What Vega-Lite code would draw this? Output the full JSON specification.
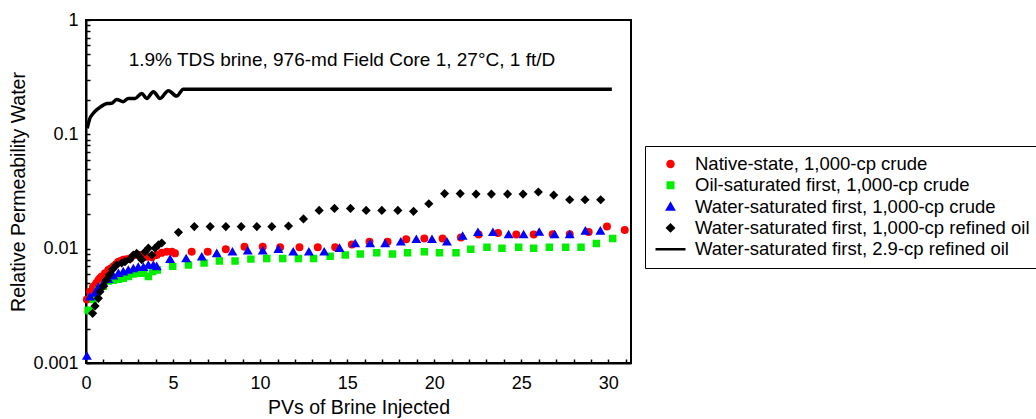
{
  "$schema": "https://vega.github.io/schema/vega-lite/v6.json",
  "width": 545,
  "height": 343,
  "autosize": {"type": "none"},
  "padding": {"left": 86, "top": 20, "right": 405, "bottom": 56},
  "background": "white",
  "config": {
    "font": "Liberation Sans",
    "view": {"stroke": "black", "strokeWidth": 2},
    "axis": {
      "domain": true, "domainColor": "black", "domainWidth": 2, "tickColor": "black", "tickWidth": 1.5, "ticks": true, "zindex": 1,
      "labelColor": "black", "titleColor": "black", "labelFontSize": 18, "titleFontSize": 19.5,
      "titleFontWeight": "normal", "grid": false, "labelFont": "Liberation Sans", "titleFont": "Liberation Sans"
    },
    "legend": {
      "strokeColor": "black", "padding": 9,
      "labelFont": "Liberation Sans", "labelFontSize": 18.5, "labelColor": "black", "labelOffset": 8, "labelLimit": 400,
      "clipHeight": 18, "rowPadding": 2.3, "symbolStrokeWidth": 2.5, "symbolOpacity": 1
    }
  },
  "encoding": {
    "x": {
      "field": "pv", "type": "quantitative",
      "scale": {"domain": [0, 31.3], "nice": false, "zero": false},
      "axis": {
        "title": "PVs of Brine Injected",
        "values": [0,1,2,3,4,5,6,7,8,9,10,11,12,13,14,15,16,17,18,19,20,21,22,23,24,25,26,27,28,29,30,31],
        "labelExpr": "datum.value % 5 == 0 ? datum.label : ''",
        "tickSize": -4, "labelPadding": 15, "titlePadding": 6,
        "labelFlush": false, "labelOverlap": false,
        "encode": {"ticks": {"y2": {"condition": {"test": "datum.value % 5 == 0", "value": -7}, "value": -4}}}
      }
    },
    "y": {
      "field": "kr", "type": "quantitative",
      "scale": {"type": "log", "domain": [0.001, 1], "nice": false},
      "axis": {
        "title": "Relative Permeability Water",
        "values": [0.001,0.002,0.003,0.004,0.005,0.006,0.007,0.008,0.009,0.01,0.02,0.03,0.04,0.05,0.06,0.07,0.08,0.09,0.1,0.2,0.3,0.4,0.5,0.6,0.7,0.8,0.9,1],
        "labelExpr": "datum.value == 1 ? '1' : datum.value == 0.1 ? '0.1' : datum.value == 0.01 ? '0.01' : datum.value == 0.001 ? '0.001' : ''",
        "tickSize": -4, "labelPadding": 12, "titlePadding": 4,
        "labelFlush": false, "labelOverlap": false,
        "encode": {"ticks": {"x2": {"condition": {"test": "datum.value == 1 || datum.value == 0.1 || datum.value == 0.01 || datum.value == 0.001", "value": 7}, "value": 4}}}
      }
    }
  },
  "layer": [
    {
      "data": {"values": [
        {"pv": 0.07, "kr": 0.113}, {"pv": 0.2, "kr": 0.135}, {"pv": 0.42, "kr": 0.153}, {"pv": 0.7, "kr": 0.168},
        {"pv": 0.99, "kr": 0.18}, {"pv": 1.2, "kr": 0.186}, {"pv": 1.48, "kr": 0.187}, {"pv": 1.76, "kr": 0.202},
        {"pv": 2.14, "kr": 0.193}, {"pv": 2.43, "kr": 0.206}, {"pv": 2.82, "kr": 0.206}, {"pv": 3.2, "kr": 0.228},
        {"pv": 3.49, "kr": 0.206}, {"pv": 3.87, "kr": 0.236}, {"pv": 4.25, "kr": 0.206}, {"pv": 4.73, "kr": 0.241},
        {"pv": 5.21, "kr": 0.216}, {"pv": 5.59, "kr": 0.248}, {"pv": 30.2, "kr": 0.248}
      ]},
      "mark": {"type": "line", "color": "black", "strokeWidth": 3.5, "interpolate": "monotone"},
      "encoding": {}
    },
    {
      "data": {"values": [
        {"series": "Native-state, 1,000-cp crude", "pv": 0.05, "kr": 0.0036},
        {"series": "Native-state, 1,000-cp crude", "pv": 0.23, "kr": 0.0042},
        {"series": "Native-state, 1,000-cp crude", "pv": 0.4, "kr": 0.0046},
        {"series": "Native-state, 1,000-cp crude", "pv": 0.52, "kr": 0.0048},
        {"series": "Native-state, 1,000-cp crude", "pv": 0.6, "kr": 0.005},
        {"series": "Native-state, 1,000-cp crude", "pv": 0.71, "kr": 0.0053},
        {"series": "Native-state, 1,000-cp crude", "pv": 0.8, "kr": 0.0055},
        {"series": "Native-state, 1,000-cp crude", "pv": 0.9, "kr": 0.0057},
        {"series": "Native-state, 1,000-cp crude", "pv": 1.09, "kr": 0.0061},
        {"series": "Native-state, 1,000-cp crude", "pv": 1.28, "kr": 0.0065},
        {"series": "Native-state, 1,000-cp crude", "pv": 1.42, "kr": 0.0067},
        {"series": "Native-state, 1,000-cp crude", "pv": 1.57, "kr": 0.007},
        {"series": "Native-state, 1,000-cp crude", "pv": 1.72, "kr": 0.0073},
        {"series": "Native-state, 1,000-cp crude", "pv": 1.86, "kr": 0.0077},
        {"series": "Native-state, 1,000-cp crude", "pv": 2.0, "kr": 0.0078},
        {"series": "Native-state, 1,000-cp crude", "pv": 2.14, "kr": 0.008},
        {"series": "Native-state, 1,000-cp crude", "pv": 2.33, "kr": 0.0081},
        {"series": "Native-state, 1,000-cp crude", "pv": 2.53, "kr": 0.0082},
        {"series": "Native-state, 1,000-cp crude", "pv": 2.82, "kr": 0.0088},
        {"series": "Native-state, 1,000-cp crude", "pv": 3.1, "kr": 0.0088},
        {"series": "Native-state, 1,000-cp crude", "pv": 3.3, "kr": 0.0087},
        {"series": "Native-state, 1,000-cp crude", "pv": 3.49, "kr": 0.0085},
        {"series": "Native-state, 1,000-cp crude", "pv": 3.78, "kr": 0.0084},
        {"series": "Native-state, 1,000-cp crude", "pv": 4.06, "kr": 0.0088},
        {"series": "Native-state, 1,000-cp crude", "pv": 4.35, "kr": 0.0092},
        {"series": "Native-state, 1,000-cp crude", "pv": 4.64, "kr": 0.0094},
        {"series": "Native-state, 1,000-cp crude", "pv": 4.93, "kr": 0.0094},
        {"series": "Native-state, 1,000-cp crude", "pv": 5.11, "kr": 0.0091},
        {"series": "Native-state, 1,000-cp crude", "pv": 6.07, "kr": 0.0094},
        {"series": "Native-state, 1,000-cp crude", "pv": 6.99, "kr": 0.0094},
        {"series": "Native-state, 1,000-cp crude", "pv": 8.03, "kr": 0.0099},
        {"series": "Native-state, 1,000-cp crude", "pv": 9.1, "kr": 0.0104},
        {"series": "Native-state, 1,000-cp crude", "pv": 10.15, "kr": 0.0104},
        {"series": "Native-state, 1,000-cp crude", "pv": 11.15, "kr": 0.0103},
        {"series": "Native-state, 1,000-cp crude", "pv": 12.26, "kr": 0.0103},
        {"series": "Native-state, 1,000-cp crude", "pv": 13.31, "kr": 0.0103},
        {"series": "Native-state, 1,000-cp crude", "pv": 14.31, "kr": 0.0103},
        {"series": "Native-state, 1,000-cp crude", "pv": 15.27, "kr": 0.0109},
        {"series": "Native-state, 1,000-cp crude", "pv": 16.28, "kr": 0.0115},
        {"series": "Native-state, 1,000-cp crude", "pv": 17.32, "kr": 0.0115},
        {"series": "Native-state, 1,000-cp crude", "pv": 18.39, "kr": 0.0121},
        {"series": "Native-state, 1,000-cp crude", "pv": 19.43, "kr": 0.0123},
        {"series": "Native-state, 1,000-cp crude", "pv": 20.48, "kr": 0.0123},
        {"series": "Native-state, 1,000-cp crude", "pv": 21.53, "kr": 0.0125},
        {"series": "Native-state, 1,000-cp crude", "pv": 22.55, "kr": 0.0133},
        {"series": "Native-state, 1,000-cp crude", "pv": 23.66, "kr": 0.0137},
        {"series": "Native-state, 1,000-cp crude", "pv": 24.71, "kr": 0.0133},
        {"series": "Native-state, 1,000-cp crude", "pv": 25.71, "kr": 0.0133},
        {"series": "Native-state, 1,000-cp crude", "pv": 26.8, "kr": 0.0134},
        {"series": "Native-state, 1,000-cp crude", "pv": 27.78, "kr": 0.0134},
        {"series": "Native-state, 1,000-cp crude", "pv": 28.87, "kr": 0.014},
        {"series": "Native-state, 1,000-cp crude", "pv": 29.92, "kr": 0.0156},
        {"series": "Native-state, 1,000-cp crude", "pv": 30.94, "kr": 0.0146},
        {"series": "Oil-saturated first, 1,000-cp crude", "pv": 0.12, "kr": 0.0029},
        {"series": "Oil-saturated first, 1,000-cp crude", "pv": 0.23, "kr": 0.00285},
        {"series": "Oil-saturated first, 1,000-cp crude", "pv": 0.42, "kr": 0.0036},
        {"series": "Oil-saturated first, 1,000-cp crude", "pv": 0.71, "kr": 0.0043},
        {"series": "Oil-saturated first, 1,000-cp crude", "pv": 1.0, "kr": 0.0047},
        {"series": "Oil-saturated first, 1,000-cp crude", "pv": 1.28, "kr": 0.0052},
        {"series": "Oil-saturated first, 1,000-cp crude", "pv": 1.57, "kr": 0.0053},
        {"series": "Oil-saturated first, 1,000-cp crude", "pv": 1.86, "kr": 0.0054},
        {"series": "Oil-saturated first, 1,000-cp crude", "pv": 2.14, "kr": 0.0055},
        {"series": "Oil-saturated first, 1,000-cp crude", "pv": 2.43, "kr": 0.0057},
        {"series": "Oil-saturated first, 1,000-cp crude", "pv": 2.72, "kr": 0.006},
        {"series": "Oil-saturated first, 1,000-cp crude", "pv": 3.0, "kr": 0.0061},
        {"series": "Oil-saturated first, 1,000-cp crude", "pv": 3.3, "kr": 0.0061},
        {"series": "Oil-saturated first, 1,000-cp crude", "pv": 3.58, "kr": 0.0057},
        {"series": "Oil-saturated first, 1,000-cp crude", "pv": 3.83, "kr": 0.0063},
        {"series": "Oil-saturated first, 1,000-cp crude", "pv": 4.1, "kr": 0.0065},
        {"series": "Oil-saturated first, 1,000-cp crude", "pv": 4.98, "kr": 0.007},
        {"series": "Oil-saturated first, 1,000-cp crude", "pv": 5.88, "kr": 0.0072},
        {"series": "Oil-saturated first, 1,000-cp crude", "pv": 6.78, "kr": 0.0075},
        {"series": "Oil-saturated first, 1,000-cp crude", "pv": 7.66, "kr": 0.0078},
        {"series": "Oil-saturated first, 1,000-cp crude", "pv": 8.56, "kr": 0.0078},
        {"series": "Oil-saturated first, 1,000-cp crude", "pv": 9.47, "kr": 0.0081},
        {"series": "Oil-saturated first, 1,000-cp crude", "pv": 10.38, "kr": 0.0082},
        {"series": "Oil-saturated first, 1,000-cp crude", "pv": 11.3, "kr": 0.0082},
        {"series": "Oil-saturated first, 1,000-cp crude", "pv": 12.2, "kr": 0.0082},
        {"series": "Oil-saturated first, 1,000-cp crude", "pv": 13.07, "kr": 0.0082},
        {"series": "Oil-saturated first, 1,000-cp crude", "pv": 14.02, "kr": 0.0086},
        {"series": "Oil-saturated first, 1,000-cp crude", "pv": 14.89, "kr": 0.0088},
        {"series": "Oil-saturated first, 1,000-cp crude", "pv": 15.75, "kr": 0.009},
        {"series": "Oil-saturated first, 1,000-cp crude", "pv": 16.7, "kr": 0.0092},
        {"series": "Oil-saturated first, 1,000-cp crude", "pv": 17.6, "kr": 0.009},
        {"series": "Oil-saturated first, 1,000-cp crude", "pv": 18.47, "kr": 0.0092},
        {"series": "Oil-saturated first, 1,000-cp crude", "pv": 19.43, "kr": 0.0094},
        {"series": "Oil-saturated first, 1,000-cp crude", "pv": 20.3, "kr": 0.0092},
        {"series": "Oil-saturated first, 1,000-cp crude", "pv": 21.25, "kr": 0.0092},
        {"series": "Oil-saturated first, 1,000-cp crude", "pv": 22.1, "kr": 0.0099},
        {"series": "Oil-saturated first, 1,000-cp crude", "pv": 23.03, "kr": 0.0103},
        {"series": "Oil-saturated first, 1,000-cp crude", "pv": 23.89, "kr": 0.0101},
        {"series": "Oil-saturated first, 1,000-cp crude", "pv": 24.85, "kr": 0.0103},
        {"series": "Oil-saturated first, 1,000-cp crude", "pv": 25.71, "kr": 0.0101},
        {"series": "Oil-saturated first, 1,000-cp crude", "pv": 26.61, "kr": 0.0103},
        {"series": "Oil-saturated first, 1,000-cp crude", "pv": 27.55, "kr": 0.0103},
        {"series": "Oil-saturated first, 1,000-cp crude", "pv": 28.43, "kr": 0.0103},
        {"series": "Oil-saturated first, 1,000-cp crude", "pv": 29.31, "kr": 0.0111},
        {"series": "Oil-saturated first, 1,000-cp crude", "pv": 30.25, "kr": 0.0123},
        {"series": "Water-saturated first, 1,000-cp crude", "pv": 0.05, "kr": 0.00115},
        {"series": "Water-saturated first, 1,000-cp crude", "pv": 0.23, "kr": 0.0038},
        {"series": "Water-saturated first, 1,000-cp crude", "pv": 0.52, "kr": 0.0041},
        {"series": "Water-saturated first, 1,000-cp crude", "pv": 0.71, "kr": 0.0046},
        {"series": "Water-saturated first, 1,000-cp crude", "pv": 1.0, "kr": 0.005},
        {"series": "Water-saturated first, 1,000-cp crude", "pv": 1.28, "kr": 0.0054},
        {"series": "Water-saturated first, 1,000-cp crude", "pv": 1.57, "kr": 0.0058},
        {"series": "Water-saturated first, 1,000-cp crude", "pv": 1.86, "kr": 0.0061},
        {"series": "Water-saturated first, 1,000-cp crude", "pv": 2.14, "kr": 0.0063},
        {"series": "Water-saturated first, 1,000-cp crude", "pv": 2.43, "kr": 0.0065},
        {"series": "Water-saturated first, 1,000-cp crude", "pv": 2.72, "kr": 0.0067},
        {"series": "Water-saturated first, 1,000-cp crude", "pv": 3.0, "kr": 0.0069},
        {"series": "Water-saturated first, 1,000-cp crude", "pv": 3.3, "kr": 0.0069},
        {"series": "Water-saturated first, 1,000-cp crude", "pv": 3.58, "kr": 0.0072},
        {"series": "Water-saturated first, 1,000-cp crude", "pv": 3.87, "kr": 0.0072},
        {"series": "Water-saturated first, 1,000-cp crude", "pv": 4.06, "kr": 0.007},
        {"series": "Water-saturated first, 1,000-cp crude", "pv": 4.83, "kr": 0.0081},
        {"series": "Water-saturated first, 1,000-cp crude", "pv": 5.75, "kr": 0.0082},
        {"series": "Water-saturated first, 1,000-cp crude", "pv": 6.65, "kr": 0.0085},
        {"series": "Water-saturated first, 1,000-cp crude", "pv": 7.51, "kr": 0.0091},
        {"series": "Water-saturated first, 1,000-cp crude", "pv": 8.41, "kr": 0.0094},
        {"series": "Water-saturated first, 1,000-cp crude", "pv": 9.29, "kr": 0.0096},
        {"series": "Water-saturated first, 1,000-cp crude", "pv": 10.15, "kr": 0.0096},
        {"series": "Water-saturated first, 1,000-cp crude", "pv": 11.05, "kr": 0.0099},
        {"series": "Water-saturated first, 1,000-cp crude", "pv": 11.9, "kr": 0.0094},
        {"series": "Water-saturated first, 1,000-cp crude", "pv": 12.8, "kr": 0.0094},
        {"series": "Water-saturated first, 1,000-cp crude", "pv": 13.68, "kr": 0.0094},
        {"series": "Water-saturated first, 1,000-cp crude", "pv": 14.56, "kr": 0.0101},
        {"series": "Water-saturated first, 1,000-cp crude", "pv": 15.46, "kr": 0.0111},
        {"series": "Water-saturated first, 1,000-cp crude", "pv": 16.32, "kr": 0.0111},
        {"series": "Water-saturated first, 1,000-cp crude", "pv": 17.18, "kr": 0.0111},
        {"series": "Water-saturated first, 1,000-cp crude", "pv": 18.08, "kr": 0.0115},
        {"series": "Water-saturated first, 1,000-cp crude", "pv": 18.97, "kr": 0.0121},
        {"series": "Water-saturated first, 1,000-cp crude", "pv": 19.87, "kr": 0.0121},
        {"series": "Water-saturated first, 1,000-cp crude", "pv": 20.73, "kr": 0.0115},
        {"series": "Water-saturated first, 1,000-cp crude", "pv": 21.63, "kr": 0.0129},
        {"series": "Water-saturated first, 1,000-cp crude", "pv": 22.51, "kr": 0.0139},
        {"series": "Water-saturated first, 1,000-cp crude", "pv": 23.37, "kr": 0.0139},
        {"series": "Water-saturated first, 1,000-cp crude", "pv": 24.27, "kr": 0.0133},
        {"series": "Water-saturated first, 1,000-cp crude", "pv": 25.13, "kr": 0.0133},
        {"series": "Water-saturated first, 1,000-cp crude", "pv": 26.03, "kr": 0.014},
        {"series": "Water-saturated first, 1,000-cp crude", "pv": 26.91, "kr": 0.0133},
        {"series": "Water-saturated first, 1,000-cp crude", "pv": 27.78, "kr": 0.0133},
        {"series": "Water-saturated first, 1,000-cp crude", "pv": 28.68, "kr": 0.0143},
        {"series": "Water-saturated first, 1,000-cp crude", "pv": 29.54, "kr": 0.0143},
        {"series": "Water-saturated first, 1,000-cp refined oil", "pv": 0.38, "kr": 0.00272},
        {"series": "Water-saturated first, 1,000-cp refined oil", "pv": 0.52, "kr": 0.00315},
        {"series": "Water-saturated first, 1,000-cp refined oil", "pv": 0.71, "kr": 0.00368},
        {"series": "Water-saturated first, 1,000-cp refined oil", "pv": 0.8, "kr": 0.0042},
        {"series": "Water-saturated first, 1,000-cp refined oil", "pv": 1.0, "kr": 0.0047},
        {"series": "Water-saturated first, 1,000-cp refined oil", "pv": 1.15, "kr": 0.0053},
        {"series": "Water-saturated first, 1,000-cp refined oil", "pv": 1.34, "kr": 0.0059},
        {"series": "Water-saturated first, 1,000-cp refined oil", "pv": 1.53, "kr": 0.0066},
        {"series": "Water-saturated first, 1,000-cp refined oil", "pv": 1.76, "kr": 0.0072},
        {"series": "Water-saturated first, 1,000-cp refined oil", "pv": 2.05, "kr": 0.0075},
        {"series": "Water-saturated first, 1,000-cp refined oil", "pv": 2.24, "kr": 0.0077},
        {"series": "Water-saturated first, 1,000-cp refined oil", "pv": 2.53, "kr": 0.0081},
        {"series": "Water-saturated first, 1,000-cp refined oil", "pv": 2.72, "kr": 0.0088},
        {"series": "Water-saturated first, 1,000-cp refined oil", "pv": 2.91, "kr": 0.0091},
        {"series": "Water-saturated first, 1,000-cp refined oil", "pv": 3.07, "kr": 0.0085},
        {"series": "Water-saturated first, 1,000-cp refined oil", "pv": 3.2, "kr": 0.008},
        {"series": "Water-saturated first, 1,000-cp refined oil", "pv": 3.39, "kr": 0.0094},
        {"series": "Water-saturated first, 1,000-cp refined oil", "pv": 3.58, "kr": 0.0101},
        {"series": "Water-saturated first, 1,000-cp refined oil", "pv": 3.78, "kr": 0.0088},
        {"series": "Water-saturated first, 1,000-cp refined oil", "pv": 3.97, "kr": 0.0101},
        {"series": "Water-saturated first, 1,000-cp refined oil", "pv": 4.16, "kr": 0.0108},
        {"series": "Water-saturated first, 1,000-cp refined oil", "pv": 4.35, "kr": 0.0112},
        {"series": "Water-saturated first, 1,000-cp refined oil", "pv": 5.31, "kr": 0.0139},
        {"series": "Water-saturated first, 1,000-cp refined oil", "pv": 6.22, "kr": 0.0156},
        {"series": "Water-saturated first, 1,000-cp refined oil", "pv": 7.13, "kr": 0.0156},
        {"series": "Water-saturated first, 1,000-cp refined oil", "pv": 8.03, "kr": 0.0156},
        {"series": "Water-saturated first, 1,000-cp refined oil", "pv": 8.91, "kr": 0.0156},
        {"series": "Water-saturated first, 1,000-cp refined oil", "pv": 9.81, "kr": 0.0156},
        {"series": "Water-saturated first, 1,000-cp refined oil", "pv": 10.67, "kr": 0.0156},
        {"series": "Water-saturated first, 1,000-cp refined oil", "pv": 11.63, "kr": 0.0158},
        {"series": "Water-saturated first, 1,000-cp refined oil", "pv": 12.49, "kr": 0.0182},
        {"series": "Water-saturated first, 1,000-cp refined oil", "pv": 13.39, "kr": 0.0216},
        {"series": "Water-saturated first, 1,000-cp refined oil", "pv": 14.27, "kr": 0.0225},
        {"series": "Water-saturated first, 1,000-cp refined oil", "pv": 15.19, "kr": 0.0225},
        {"series": "Water-saturated first, 1,000-cp refined oil", "pv": 16.09, "kr": 0.0216},
        {"series": "Water-saturated first, 1,000-cp refined oil", "pv": 16.99, "kr": 0.0216},
        {"series": "Water-saturated first, 1,000-cp refined oil", "pv": 17.91, "kr": 0.0216},
        {"series": "Water-saturated first, 1,000-cp refined oil", "pv": 18.81, "kr": 0.0212},
        {"series": "Water-saturated first, 1,000-cp refined oil", "pv": 19.69, "kr": 0.0247},
        {"series": "Water-saturated first, 1,000-cp refined oil", "pv": 20.59, "kr": 0.0303},
        {"series": "Water-saturated first, 1,000-cp refined oil", "pv": 21.49, "kr": 0.0303},
        {"series": "Water-saturated first, 1,000-cp refined oil", "pv": 22.4, "kr": 0.03},
        {"series": "Water-saturated first, 1,000-cp refined oil", "pv": 23.28, "kr": 0.03},
        {"series": "Water-saturated first, 1,000-cp refined oil", "pv": 24.21, "kr": 0.03},
        {"series": "Water-saturated first, 1,000-cp refined oil", "pv": 25.1, "kr": 0.03},
        {"series": "Water-saturated first, 1,000-cp refined oil", "pv": 25.98, "kr": 0.0313},
        {"series": "Water-saturated first, 1,000-cp refined oil", "pv": 26.86, "kr": 0.0294},
        {"series": "Water-saturated first, 1,000-cp refined oil", "pv": 27.78, "kr": 0.0268},
        {"series": "Water-saturated first, 1,000-cp refined oil", "pv": 28.66, "kr": 0.0268},
        {"series": "Water-saturated first, 1,000-cp refined oil", "pv": 29.56, "kr": 0.0268}
      ]},
      "mark": {"type": "point", "filled": true, "opacity": 1},
      "encoding": {
        "fill": {
          "field": "series", "type": "nominal",
          "scale": {
            "domain": ["Native-state, 1,000-cp crude", "Oil-saturated first, 1,000-cp crude", "Water-saturated first, 1,000-cp crude", "Water-saturated first, 1,000-cp refined oil", "Water-saturated first, 2.9-cp refined oil"],
            "range": ["#ff0000", "#00ee00", "#0000ff", "#000000", "#000000"]
          },
          "legend": {"title": null, "orient": "none", "legendX": 559, "legendY": 126}
        },
        "stroke": {
          "field": "series", "type": "nominal",
          "scale": {
            "domain": ["Native-state, 1,000-cp crude", "Oil-saturated first, 1,000-cp crude", "Water-saturated first, 1,000-cp crude", "Water-saturated first, 1,000-cp refined oil", "Water-saturated first, 2.9-cp refined oil"],
            "range": ["#ff0000", "#00ee00", "#0000ff", "#000000", "#000000"]
          },
          "legend": {"title": null, "orient": "none", "legendX": 559, "legendY": 126}
        },
        "shape": {
          "field": "series", "type": "nominal",
          "scale": {
            "domain": ["Native-state, 1,000-cp crude", "Oil-saturated first, 1,000-cp crude", "Water-saturated first, 1,000-cp crude", "Water-saturated first, 1,000-cp refined oil", "Water-saturated first, 2.9-cp refined oil"],
            "range": ["circle", "square", "triangle-up", "diamond", "stroke"]
          },
          "legend": {"title": null, "orient": "none", "legendX": 559, "legendY": 126}
        },
        "size": {
          "field": "series", "type": "nominal",
          "scale": {
            "type": "ordinal",
            "domain": ["Native-state, 1,000-cp crude", "Oil-saturated first, 1,000-cp crude", "Water-saturated first, 1,000-cp crude", "Water-saturated first, 1,000-cp refined oil", "Water-saturated first, 2.9-cp refined oil"],
            "range": [36, 30, 42, 40, 900]
          },
          "legend": {"title": null, "orient": "none", "legendX": 559, "legendY": 126}
        }
      }
    },
    {
      "data": {"values": [{"label": "1.9% TDS brine, 976-md Field Core 1, 27°C, 1 ft/D", "pv": 14.7, "kr": 0.447}]},
      "mark": {"type": "text", "fontSize": 19, "align": "center", "baseline": "middle", "color": "black", "font": "Liberation Sans"},
      "encoding": {"text": {"field": "label"}}
    }
  ]
}
